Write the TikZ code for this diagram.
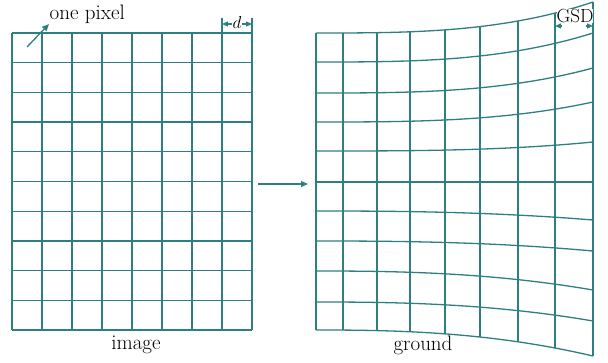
\documentclass[tikz,border=0pt]{standalone}
\usetikzlibrary{arrows.meta}
\definecolor{gridteal}{RGB}{46,128,128}
\begin{document}
\begin{tikzpicture}[x=1pt,y=-1pt,
  gridline/.style={draw=gridteal, line width=1.3pt},
  lbl/.style={font=\fontsize{21}{24}\selectfont, inner sep=0.5pt},
  smalllbl/.style={font=\fontsize{19}{21}\selectfont, inner sep=0pt, fill=white},
  arr/.style={gridline, -{Triangle[length=7pt,width=6pt]}},
  headonly/.style={gridline, -{Triangle[length=6pt,width=5pt]}},
  dim/.style={gridline, {Triangle[length=6pt,width=5pt]}-{Triangle[length=6pt,width=5pt]}}]
\useasboundingbox (0,0) rectangle (608,362);
% left grid
\foreach \i in {0,...,8} \draw[gridline] ({12+30*\i},33) -- ({12+30*\i},330);
\foreach \j in {0,...,10} \draw[gridline] (12,{33+29.7*\j}) -- (252,{33+29.7*\j});
% right grid horizontals
\foreach \L/\R/\e in {33/2/3, 62/33/3, 93/68/3, 122/102/3, 151/142/3, 182/182/3, 211/220/2.5, 241/251/2.5, 271/290/2.5, 302/321/2.5, 330/356/2.5}
  \draw[gridline] plot[domain=0:1, samples=40, variable=\t] ({316+277*\t}, {\L+(\R-\L)*\t*\t*(\e==3 ? \t : sqrt(\t))});
% right grid verticals
\foreach \X in {316,343,377,410,445,480,518,555,593} {
  \pgfmathsetmacro\tv{(\X-316)/277}
  \draw[gridline] (\X,{33-31*\tv*\tv*\tv}) -- (\X,{330+26*\tv*\tv*sqrt(\tv)});
}
% d dimension
\coordinate (dA) at (222,24);
\coordinate (dB) at (252,24);
\draw[gridline] (222,33) -- (222,18);
\draw[gridline] (252,33) -- (252,18);
\draw[dim] (dA) -- (dB);
\node[smalllbl, inner sep=1pt] (dlabel) at (237,22) {$d$};
% GSD dimension
\node[smalllbl] (gsd) at (575,16) {GSD};
\coordinate (gA) at (555,26);
\coordinate (gAi) at (562,26);
\coordinate (gB) at (593,26);
\coordinate (gBi) at (586,26);
\draw[headonly] (gAi) -- (gA);
\draw[headonly] (gBi) -- (gB);
% one pixel
\node[lbl, anchor=west] (onepixel) at (49,14) {one pixel};
\coordinate (pxcell) at (27,47);
\draw[arr] (pxcell) -- (onepixel.south west);
% central arrow
\coordinate (aL) at (258,184);
\coordinate (aR) at (308,184);
\draw[arr] (aL) -- (aR);
% labels
\node[lbl] (image) at (136,345) {image};
\node[lbl] (ground) at (423,345) {ground};
\end{tikzpicture}
\end{document}
